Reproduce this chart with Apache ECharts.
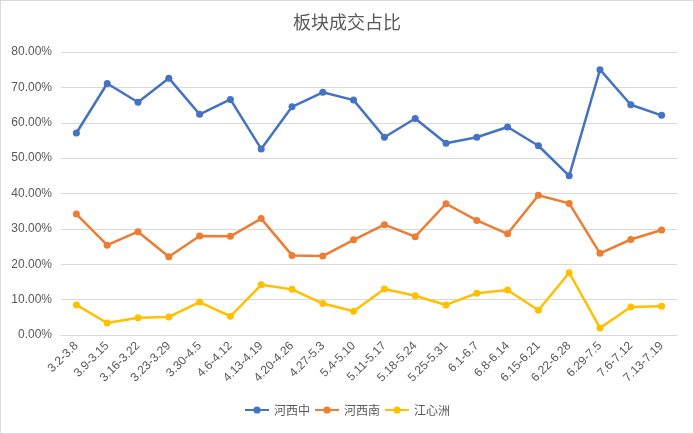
<!DOCTYPE html>
<html><head><meta charset="utf-8">
<script src="https://cdn.jsdelivr.net/npm/echarts@6/dist/echarts.min.js"></script>
<style>html,body{margin:0;padding:0;background:#fff}#c{width:694px;height:434px;box-sizing:border-box;border:1px solid #d9d9d9}</style>
</head><body><div id="c"></div>
<script>
const categories = ['3.2-3.8','3.9-3.15','3.16-3.22','3.23-3.29','3.30-4.5','4.6-4.12','4.13-4.19','4.20-4.26','4.27-5.3','5.4-5.10','5.11-5.17','5.18-5.24','5.25-5.31','6.1-6.7','6.8-6.14','6.15-6.21','6.22-6.28','6.29-7.5','7.6-7.12','7.13-7.19'];
const hexiZhong = [57.1,71.1,65.8,72.6,62.4,66.6,52.6,64.5,68.6,66.4,55.9,61.2,54.2,55.9,58.8,53.5,45.0,75.0,65.1,62.1];
const hexiNan = [34.2,25.4,29.2,22.1,28.0,27.9,32.9,22.5,22.3,26.9,31.2,27.8,37.1,32.4,28.6,39.5,37.2,23.1,27.0,29.7];
const jiangXinZhou = [8.5,3.4,4.9,5.1,9.3,5.3,14.2,12.9,8.9,6.7,13.0,11.1,8.5,11.8,12.7,7.0,17.6,2.0,7.9,8.1];
const seriesNames = ['河西中','河西南','江心洲'];
const colors = ['#4472C4','#ED7D31','#FFC000'];
const font = '"Liberation Sans", "Noto Sans CJK SC", sans-serif';
const chart = echarts.init(document.getElementById('c'));
const mk = (name, data, color) => ({
  name, type: 'line', data, color,
  symbol: 'circle', symbolSize: 7,
  lineStyle: {width: 2.5, color},
  itemStyle: {color}
});
chart.setOption({
  animation: false,
  title: {text: '板块成交占比', left: 'center', top: 7,
    textStyle: {fontSize: 18, fontWeight: 'normal', color: '#595959', fontFamily: '"Noto Sans CJK SC", sans-serif'}},
  grid: {left: 60, right: 16, top: 51, bottom: 98},
  legend: {bottom: 12, itemWidth: 24, itemHeight: 9, itemGap: 4,
    textStyle: {color: '#595959', fontSize: 12, fontFamily: '"Noto Sans CJK SC", sans-serif'},
    data: seriesNames},
  xAxis: {type: 'category', data: categories, boundaryGap: true,
    axisLine: {lineStyle: {color: '#d9d9d9'}}, axisTick: {show: false},
    axisLabel: {rotate: 45, color: '#595959', fontSize: 12, fontFamily: font, interval: 0, margin: 9}},
  yAxis: {type: 'value', min: 0, max: 80, interval: 10,
    axisLine: {show: false}, axisTick: {show: false},
    splitLine: {lineStyle: {color: '#d9d9d9'}},
    axisLabel: {color: '#595959', fontSize: 12, fontFamily: font, margin: 9, formatter: v => v.toFixed(2) + '%'}},
  series: [mk(seriesNames[0], hexiZhong, colors[0]), mk(seriesNames[1], hexiNan, colors[1]), mk(seriesNames[2], jiangXinZhou, colors[2])]
});
</script></body></html>
